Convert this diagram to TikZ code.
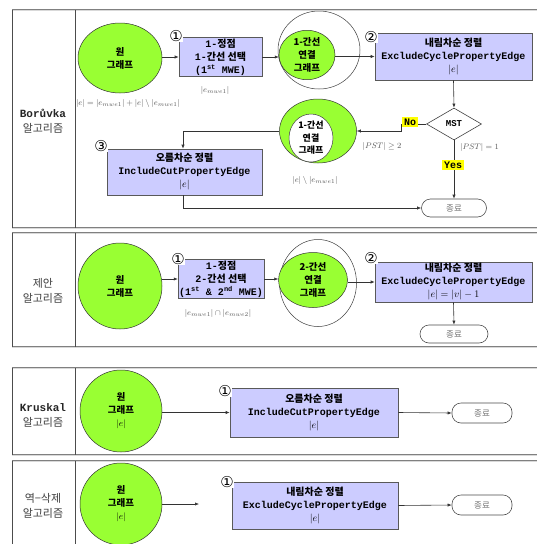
\documentclass[tikz,border=0pt]{standalone}
\usepackage{fontspec}
\setmainfont{Liberation Mono}
\newfontfamily\kor{Noto Sans CJK KR}
\newfontfamily\dvs{DejaVu Sans}
\usetikzlibrary{shapes.geometric,arrows.meta}
\definecolor{limeg}{RGB}{153,255,51}
\definecolor{lav}{RGB}{204,204,255}
\definecolor{yel}{RGB}{255,255,0}
\begin{document}
\begin{tikzpicture}[x=1pt,y=-1pt,
  frameh/.style={draw=black!50, line width=0.5pt, double=black!15, double distance=0.7pt},
  framev/.style={draw=black!70, line width=0.6pt},
  proc/.style={draw=black!65, fill=lav, line width=0.6pt, align=center, inner sep=1pt,
    font=\bfseries\fontsize{10}{13}\selectfont},
  grn/.style={ellipse, draw=black!80, fill=limeg, line width=0.5pt, align=center, inner sep=0pt,
    font=\kor\bfseries\fontsize{9.5}{13}\selectfont},
  wht/.style={ellipse, draw=black!75, fill=white, line width=0.5pt, align=center, inner sep=0pt,
    font=\kor\bfseries\fontsize{9}{12.5}\selectfont},
  term/.style={draw=black!70, line width=0.6pt, rounded corners=9pt, minimum width=65pt,
    minimum height=18pt, font=\kor\fontsize{8.5}{8.5}\selectfont, text=black!55},
  arr/.style={-{Latex[length=4pt,width=3.2pt]}, draw=black!80, line width=0.6pt},
  num/.style={font=\dvs\fontsize{15}{15}\selectfont, inner sep=0.5pt, fill=white},
  lab/.style={font=\fontsize{8.5}{9}\selectfont, text=black!65, inner sep=1pt},
  yl/.style={fill=yel, font=\bfseries\fontsize{10}{10}\selectfont, inner sep=2pt},
  side/.style={align=center, font=\bfseries\fontsize{11}{15}\selectfont, text=black!85},
  dia/.style={diamond, draw=black!75, fill=white, line width=0.6pt, minimum width=55pt,
    minimum height=32pt, inner sep=0pt, aspect=1.7, font=\bfseries\fontsize{9}{9}\selectfont}
]
\useasboundingbox (0,0) rectangle (537,544);
\clip (0,0) rectangle (537,544);
\fill[white] (0,0) rectangle (537,544);

% frames
\foreach \t/\b in {10/228, 233/347, 368/455, 461/570} {
  \draw[frameh] (12,\t) -- (560,\t);
  \draw[frameh] (12,\b) -- (560,\b);
  \draw[framev] (12,\t) -- (12,\b);
  \draw[framev] (75,\t) -- (75,\b);
}

% ---------------- Panel 1: Boruvka
\node[side] (s1) at (43,121) {Borůvka\\{\kor\mdseries\color{black!75} 알고리즘}};
\node[grn, minimum width=84pt, minimum height=70pt] (c1) at (120,58) {원\\그래프};
\node[proc, minimum width=83pt, minimum height=38pt] (b1) at (220.5,57) {1-{\kor 정점}\\1-{\kor 간선 선택}\\(1\textsuperscript{st} MWE)};
\node[lab] (l1) at (215,90) {$|e_{mwe1}|$};
\node[lab] (l0) at (128,103) {$|e|=|e_{mwe1}|+|e|\setminus|e_{mwe1}|$};
\node[wht, minimum width=82pt, minimum height=78pt] (o2) at (319,50) {};
\node[grn, minimum width=56pt, minimum height=45pt] (g2) at (307,55) {1-간선\\연결\\그래프};
\node[proc, minimum width=157pt, minimum height=47pt] (b2) at (453.5,56.5) {{\kor 내림차순 정렬}\\ExcludeCyclePropertyEdge\\$|e|$};
\node[dia] (d) at (454,124) {MST};
\node[grn, minimum width=77pt, minimum height=64pt] (g3) at (318,131) {};
\node[wht, minimum width=44pt, minimum height=48pt] (w3) at (311,138) {1-간선\\연결\\그래프};
\node[lab] (l3) at (315,180) {$|e|\setminus|e_{mwe1}|$};
\node[proc, minimum width=155pt, minimum height=46pt] (b3) at (184.5,172) {{\kor 오름차순 정렬}\\IncludeCutPropertyEdge\\$|e|$};
\node[term] (t1) at (454,208) {종료};

\draw[arr] (c1.east |- b1.west) -- (b1.west);
\draw[arr] (b1.east) -- (g2.west |- b1.east);
\draw[arr] (g2.east |- b2.west) -- (b2.west);
\draw[arr] (b2.south) -- (d.north);
\draw[arr] (d.west) -- (401,124) -- (401,131) -- (g3.east |- 0,131);
\draw[arr] (g3.west) -- (183,131) -- (b3.north -| 183,0);
\draw[arr] (b3.south -| 183,0) -- (183,208) -- (t1.west);
\draw[arr] (d.south) -- (t1.north);
\node[yl] (no) at (410,122) {No};
\node[yl] (yes) at (453,165) {Yes};
\node[lab] (l4) at (382,146) {$|PST|\geq 2$};
\node[lab, anchor=west] (l5) at (459,147) {$|PST|=1$};
\node[num] (n1) at (176,36) {①};
\node[num] (n2) at (371,37) {②};
\node[num] (n3) at (101,146) {③};

% ---------------- Panel 2: proposed
\node[side] (s2) at (43,291) {{\kor\mdseries\color{black!75} 제안}\\{\kor\mdseries\color{black!75} 알고리즘}};
\node[grn, minimum width=84pt, minimum height=86pt] (c2) at (120,286) {원\\그래프};
\node[proc, minimum width=82pt, minimum height=38pt] (b4) at (221,279) {1-{\kor 정점}\\2-{\kor 간선 선택}\\(1\textsuperscript{st} \& 2\textsuperscript{nd} MWE)};
\node[lab] (l6) at (218,313) {$|e_{mwe1}|\cap|e_{mwe2}|$};
\node[wht, minimum width=77pt, minimum height=87pt] (o5) at (318,283) {};
\node[grn, minimum width=69pt, minimum height=55pt] (g5) at (313,280) {2-간선\\연결\\그래프};
\node[proc, minimum width=157pt, minimum height=40pt] (b5) at (453.5,282) {{\kor 내림차순 정렬}\\ExcludeCyclePropertyEdge\\$|e|=|v|-1$};
\node[term, minimum width=68pt] (t2) at (454,334) {종료};
\draw[arr] (c2.east |- b4.west) -- (b4.west);
\draw[arr] (b4.east) -- (g5.west |- b4.east);
\draw[arr] (g5.east |- b5.west) -- (b5.west);
\draw[arr] (b5.south) -- (t2.north);
\node[num] (n4) at (178,259) {①};
\node[num] (n5) at (371,258) {②};

% ---------------- Panel 3: Kruskal
\node[side] (s3) at (43,415) {Kruskal\\{\kor\mdseries\color{black!75} 알고리즘}};
\node[grn, minimum width=82pt, minimum height=82pt] (c3) at (121,411) {원\\그래프\\{\normalfont\rmfamily $|e|$}};
\node[proc, minimum width=168pt, minimum height=49pt] (b6) at (314,412.5) {{\kor 오름차순 정렬}\\IncludeCutPropertyEdge\\$|e|$};
\node[term, minimum width=60pt, minimum height=20pt] (t3) at (482,413) {종료};
\draw[arr] (c3.east |- b6.west) -- (b6.west);
\draw[arr] (b6.east) -- (t3.west);
\node[num] (n6) at (225,391) {①};

% ---------------- Panel 4: reverse-delete
\node[side] (s4) at (43,506) {{\kor\mdseries\color{black!75} 역−삭제}\\{\kor\mdseries\color{black!75} 알고리즘}};
\node[grn, minimum width=82pt, minimum height=82pt] (c4) at (121,504) {원\\그래프\\{\normalfont\rmfamily $|e|$}};
\coordinate (e4) at (199,504);
\node[proc, minimum width=166pt, minimum height=47pt] (b7) at (315,505.5) {{\kor 내림차순 정렬}\\ExcludeCyclePropertyEdge\\$|e|$};
\node[term, minimum width=60pt, minimum height=20pt] (t4) at (482,505) {종료};
\draw[arr] (c4.east |- e4) -- (e4);
\draw[arr] (b7.east) -- (t4.west);
\node[num] (n7) at (227,482) {①};
\end{tikzpicture}
\end{document}
